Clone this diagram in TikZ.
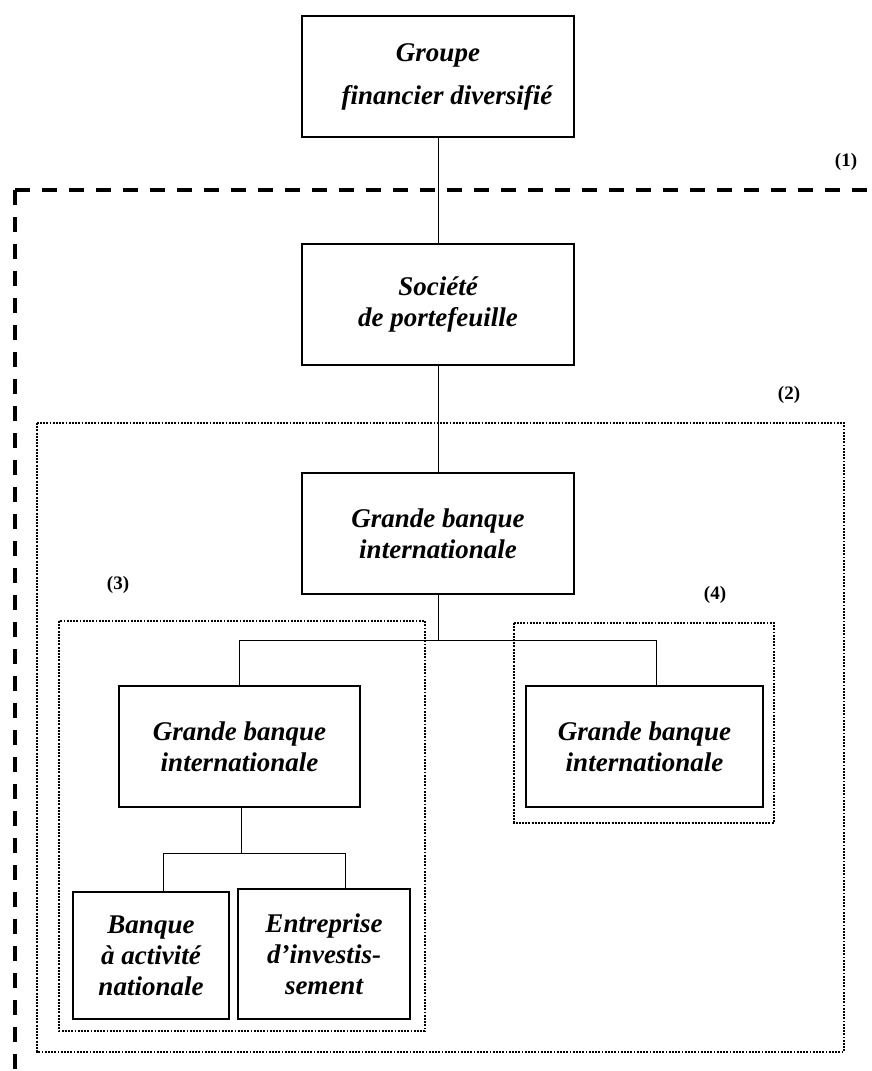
\documentclass[tikz,border=0pt]{standalone}
\usepackage{fontspec}
\setmainfont{Liberation Serif}
\usepackage{tikz}
\usetikzlibrary{positioning,calc}

\begin{document}
\begin{tikzpicture}[x=1pt, y=-1pt,
    entity/.style={rectangle, draw=black, line width=1.3pt, fill=white,
        align=center, inner sep=2pt,
        font=\fontsize{27}{31}\selectfont\bfseries\itshape},
    link/.style={line width=1pt, black},
    perim/.style={line width=3.4pt, dash pattern=on 15pt off 12pt},
    zone/.style={line width=1.7pt, dash pattern=on 1.9pt off 1.3pt},
    tag/.style={font=\fontsize{19}{22}\selectfont\bfseries}
]
    \useasboundingbox (0,0) rectangle (872,1071);

    % perimeters
    \draw[perim] (15,190) -- (872,190);
    \draw[perim] (15,190) -- (15,1071);
    \draw[zone] (37,423) rectangle (844,1052);
    \draw[zone] (59,621) rectangle (425,1031);
    \draw[zone] (514,623) rectangle (774,823);

    \node[tag] (t1) at (846,162) {(1)};
    \node[tag] (t2) at (789,395) {(2)};
    \node[tag] (t3) at (118,585) {(3)};
    \node[tag] (t4) at (715,595) {(4)};

    % entities
    \node[entity, minimum width=272, minimum height=121] (group) at (438,76.5)
        {Groupe\\[12pt]\hspace*{18pt}financier diversifié};
    \node[entity, minimum width=272, minimum height=121] (hold) at (438,304.5)
        {Société\\de portefeuille};
    \node[entity, minimum width=272, minimum height=121] (gbi) at (438,533.5)
        {Grande banque\\internationale};
    \node[entity, minimum width=241, minimum height=121] (gbil) at (239.5,746.5)
        {Grande banque\\internationale};
    \node[entity, minimum width=237, minimum height=121] (gbir) at (644.5,746.5)
        {Grande banque\\internationale};
    \node[entity, minimum width=156, minimum height=127] (bnat) at (151,955.5)
        {Banque\\à activité\\nationale};
    \node[entity, minimum width=172, minimum height=130] (einv) at (324,954)
        {Entreprise\\d’investis-\\sement};

    % links
    \draw[link] (group) -- (hold);
    \draw[link] (hold) -- (gbi);
    \draw[link] (gbi.south) -- ++(0,46) coordinate (j1);
    \draw[link] (gbil.north) |- (j1) -| ([xshift=11.5]gbir.north);
    \draw[link] ([xshift=1.5]gbil.south) -- ++(0,46) coordinate (j2);
    \draw[link] ([xshift=12]bnat.north) |- (j2) -| ([xshift=21]einv.north);
\end{tikzpicture}
\end{document}
